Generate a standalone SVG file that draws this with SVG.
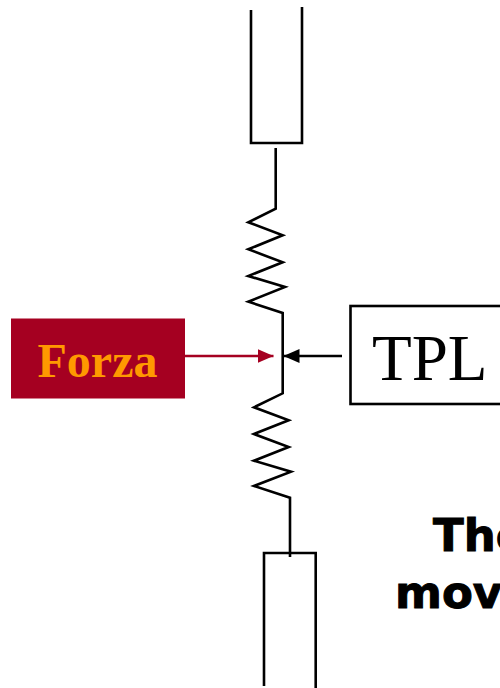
<svg xmlns="http://www.w3.org/2000/svg" width="500" height="688" viewBox="0 0 500 688">
<style>
.l{fill:none;stroke:#000;stroke-width:2.6;stroke-linejoin:miter}
.s{font-family:"DejaVu Sans",Verdana,sans-serif;font-weight:700;font-size:45px;fill:#000;stroke:#000;stroke-width:1}
</style>
<defs>
<marker id="ab" markerUnits="userSpaceOnUse" markerWidth="16" markerHeight="14" refX="16" refY="7" orient="auto"><path d="M0 0L16 7L0 14Z" fill="#000"/></marker>
<marker id="ar" markerUnits="userSpaceOnUse" markerWidth="16" markerHeight="14" refX="16" refY="7" orient="auto"><path d="M0 0L16 7L0 14Z" fill="#a50021"/></marker>
</defs>
<g id="top-cylinder"><path class="l" d="M251 10V143H302V7"/></g>
<g id="bottom-cylinder"><path class="l" d="M264 686V553H315.700V688"/></g>
<g id="forza"><rect x="11" y="318.500" width="174" height="80" fill="#a50021"/>
<text x="97.500" y="377" text-anchor="middle" font-family="'Liberation Serif','Times New Roman',serif" font-weight="700" font-size="48" fill="#ff9900">Forza</text></g>
<g id="tpl"><rect x="350.500" y="306" width="152" height="98" fill="#fff" stroke="#000" stroke-width="2.600"/>
<text x="372" y="380" font-family="'Liberation Serif','Times New Roman',serif" font-size="65" fill="#000">TPL</text></g>
<g id="connectors">
<path class="l" d="M275.700 148V208.700L248.300 222.300L282.700 235.300L248.300 249.300L282.700 262.300L248.300 276L285 287L248.300 301.700L282.700 313V393.300L254 407.300L288.700 420.300L254 434L288.700 447L254 460.700L291 471.700L254 486L290 497.700V557"/>
<line x1="185" y1="356" x2="273.500" y2="356" stroke="#a50021" stroke-width="2.600" marker-end="url(#ar)"/>
<line x1="342" y1="356" x2="283.500" y2="356" stroke="#000" stroke-width="2.600" marker-end="url(#ab)"/>
</g>
<g id="caption"><text class="s" x="433" y="551">The</text><text class="s" x="395" y="608">move</text></g>
</svg>
